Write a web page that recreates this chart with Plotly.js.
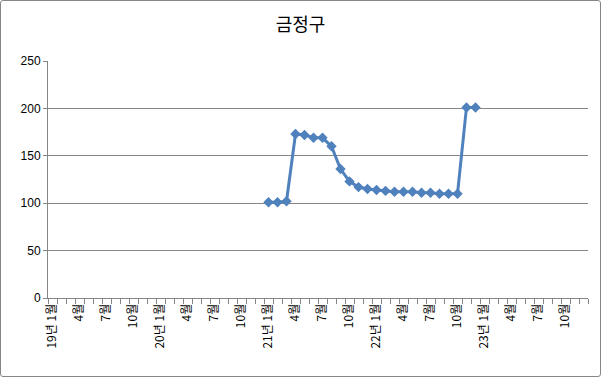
<!DOCTYPE html>
<html><head><meta charset="utf-8">
<script src="https://cdn.plot.ly/plotly-3.0.1.min.js"></script>
<style>
html,body{margin:0;padding:0;background:#fff;}
#wrap{position:absolute;left:0;top:0;width:599px;height:375px;border:1px solid #868686;border-radius:3px;overflow:hidden;}
#chart{width:601px;height:377px;position:absolute;left:-1px;top:-1px;}
</style></head>
<body><div id="wrap"><div id="chart"></div></div>
<script>
const years = ['19','20','21','22','23'];
const months = [1,2,3,4,5,6,7,8,9,10,11,12];
const categories = [];
years.forEach(y => months.forEach(m => categories.push(y + '년 ' + m + '월')));
const shownMonths = [1,4,7,10];
const tickText = [];
years.forEach(y => months.forEach(m => {
  if (m === 1) tickText.push(y + '년 1월');
  else if (shownMonths.includes(m)) tickText.push(m + '월');
  else tickText.push('');
}));
const seriesX = ['21년 1월','21년 2월','21년 3월','21년 4월','21년 5월','21년 6월','21년 7월','21년 8월','21년 9월','21년 10월','21년 11월','21년 12월',
  '22년 1월','22년 2월','22년 3월','22년 4월','22년 5월','22년 6월','22년 7월','22년 8월','22년 9월','22년 10월','22년 11월','22년 12월'];
const seriesY = [101,101,102,173,172,169,169,160,136,123,117,115,114,113,112,112,112,111,111,110,110,110,201,201];

const trace = {
  x: seriesX, y: seriesY, type: 'scatter', mode: 'lines+markers',
  line: {color: '#4F81BD', width: 3},
  marker: {symbol: 'diamond', size: 8, color: '#4F81BD'},
  hoverinfo: 'skip'
};
const layout = {
  width: 601, height: 377,
  margin: {l: 48, r: 13, t: 61, b: 79},
  paper_bgcolor: 'rgba(0,0,0,0)', plot_bgcolor: '#fff',
  showlegend: false,
  title: {text: '금정구', x: 0.5, xanchor: 'center', y: 0.935, yanchor: 'middle',
    font: {family: '"Noto Sans CJK KR", sans-serif', size: 18, color: '#000'}},
  xaxis: {
    type: 'category', categoryorder: 'array', categoryarray: categories,
    range: [-0.5, categories.length - 0.5],
    tickmode: 'array', tickvals: categories, ticktext: tickText,
    tickson: 'boundaries', ticks: 'outside', ticklen: 5, tickcolor: '#868686',
    tickangle: -90, showgrid: false, zeroline: false,
    showline: true, linecolor: '#868686', linewidth: 1,
    tickfont: {family: '"Noto Sans CJK KR", sans-serif', size: 12, color: '#000'}
  },
  yaxis: {
    range: [0, 250], tickvals: [0,50,100,150,200,250],
    showgrid: true, gridcolor: '#868686', gridwidth: 1, zeroline: false,
    showline: true, linecolor: '#868686', linewidth: 1,
    ticks: 'outside', ticklen: 4, tickcolor: '#868686',
    tickfont: {family: '"Liberation Sans", Arial, sans-serif', size: 12, color: '#000'}
  }
};
Plotly.newPlot('chart', [trace], layout, {staticPlot: true, displayModeBar: false});
</script></body></html>
